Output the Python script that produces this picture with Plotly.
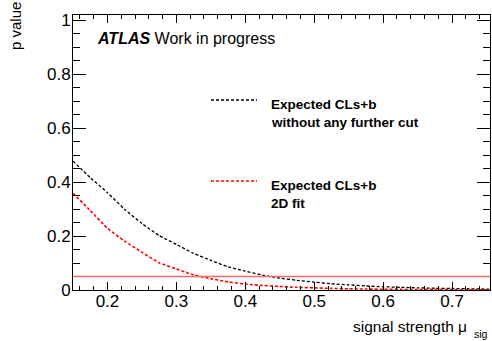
import plotly.graph_objects as go

# ---- data ----
mu = [0.15, 0.175, 0.2, 0.225, 0.25, 0.275, 0.3, 0.325, 0.35, 0.375, 0.4,
      0.425, 0.45, 0.475, 0.5, 0.525, 0.55, 0.575, 0.6, 0.625, 0.65, 0.675,
      0.7, 0.725, 0.75, 0.755]
p_no_cut = [0.478, 0.417, 0.361, 0.299, 0.247, 0.202, 0.169, 0.136, 0.110,
            0.086, 0.070, 0.055, 0.044, 0.036, 0.029, 0.023, 0.019, 0.015,
            0.012, 0.010, 0.008, 0.0065, 0.0055, 0.0045, 0.0035, 0.0035]
p_2d_fit = [0.359, 0.295, 0.229, 0.181, 0.140, 0.101, 0.078, 0.056, 0.042,
            0.030, 0.022, 0.017, 0.013, 0.010, 0.008, 0.006, 0.0045, 0.0035,
            0.0028, 0.0022, 0.0018, 0.0014, 0.0012, 0.001, 0.0008, 0.0008]
cl_threshold = 0.05
x_ticks = [0.2, 0.3, 0.4, 0.5, 0.6, 0.7]
y_ticks = [0, 0.2, 0.4, 0.6, 0.8, 1]
y_tick_labels = ["0", "0.2", "0.4", "0.6", "0.8", "1"]
x_tick_labels = ["0.2", "0.3", "0.4", "0.5", "0.6", "0.7"]
legend_labels = [["Expected CLs+b", "without any further cut"],
                 ["Expected CLs+b", "2D fit"]]

FONT = "Liberation Sans, Arial, Helvetica, sans-serif"
W, H = 492, 341
L, R, T, B = 73, 2, 15, 51
pw, ph = W - L - R, H - T - B


def px(x):
    return (x - L) / pw


def py(y):
    return (H - B - y) / ph


fig = go.Figure()
fig.add_trace(go.Scatter(x=mu, y=p_no_cut, mode="lines",
                         line=dict(color="black", width=1.3, dash="3px,2px", shape="spline", smoothing=0.5),
                         showlegend=False))
fig.add_trace(go.Scatter(x=mu, y=p_2d_fit, mode="lines",
                         line=dict(color="#ff0000", width=1.6, dash="3px,2px", shape="spline", smoothing=0.5),
                         showlegend=False))
fig.add_hline(y=cl_threshold, line=dict(color="rgb(240,110,110)", width=1.5))

axis_common = dict(showline=True, linecolor="black", linewidth=1, mirror="allticks",
                   ticks="inside", tickcolor="black", showgrid=False, zeroline=False,
                   tickfont=dict(family=FONT, size=17, color="black"))
fig.update_xaxes(range=[0.15, 0.755], tickvals=x_ticks, ticktext=x_tick_labels,
                 ticklen=8, ticklabelstandoff=-4,
                 minor=dict(dtick=0.02, tick0=0, ticks="inside", ticklen=4, tickcolor="black"),
                 **axis_common)
fig.update_yaxes(range=[0, 1.02], tickvals=y_ticks, ticktext=y_tick_labels,
                 ticklen=13, ticklabelstandoff=-2,
                 minor=dict(dtick=0.05, tick0=0, ticks="inside", ticklen=7, tickcolor="black"),
                 **axis_common)

fig.add_annotation(x=px(95), y=py(38), xref="paper", yref="paper", xanchor="left", yanchor="middle",
                   text="<b><i>ATLAS</i></b> Work in progress", showarrow=False,
                   font=dict(family=FONT, size=16, color="black"))
# legend
leg_y = [100, 181]
leg_col = ["black", "#ff0000"]
for i, (lines, col) in enumerate(zip(legend_labels, leg_col)):
    fig.add_shape(type="line", xref="paper", yref="paper", x0=px(211), x1=px(257),
                  y0=py(leg_y[i]), y1=py(leg_y[i]),
                  line=dict(color=col, width=1.4, dash="3px,2px"))
    for j, t in enumerate(lines):
        fig.add_annotation(x=px(269), y=py(leg_y[i] + 4 + j * 18.5), xref="paper", yref="paper",
                           xanchor="left", yanchor="middle", text="<b>%s</b>" % t, showarrow=False,
                           font=dict(family=FONT, size=13.5, color="black"))
# axis titles
fig.add_annotation(x=px(469), y=py(326), xref="paper", yref="paper", xanchor="right", yanchor="middle",
                   text="signal strength μ", showarrow=False,
                   font=dict(family=FONT, size=15.5, color="black"))
fig.add_annotation(x=px(490), y=py(333.5), xref="paper", yref="paper", xanchor="right", yanchor="middle",
                   text="sig", showarrow=False,
                   font=dict(family=FONT, size=10.5, color="black"))
fig.add_annotation(x=px(15), y=py(0), xref="paper", yref="paper", xanchor="center", yanchor="top",
                   text="p value", textangle=-90, showarrow=False,
                   font=dict(family=FONT, size=15, color="black"))

fig.update_layout(width=W, height=H, margin=dict(l=L, r=R, t=T, b=B),
                  paper_bgcolor="white", plot_bgcolor="white", showlegend=False)
fig.write_html("out.html")
